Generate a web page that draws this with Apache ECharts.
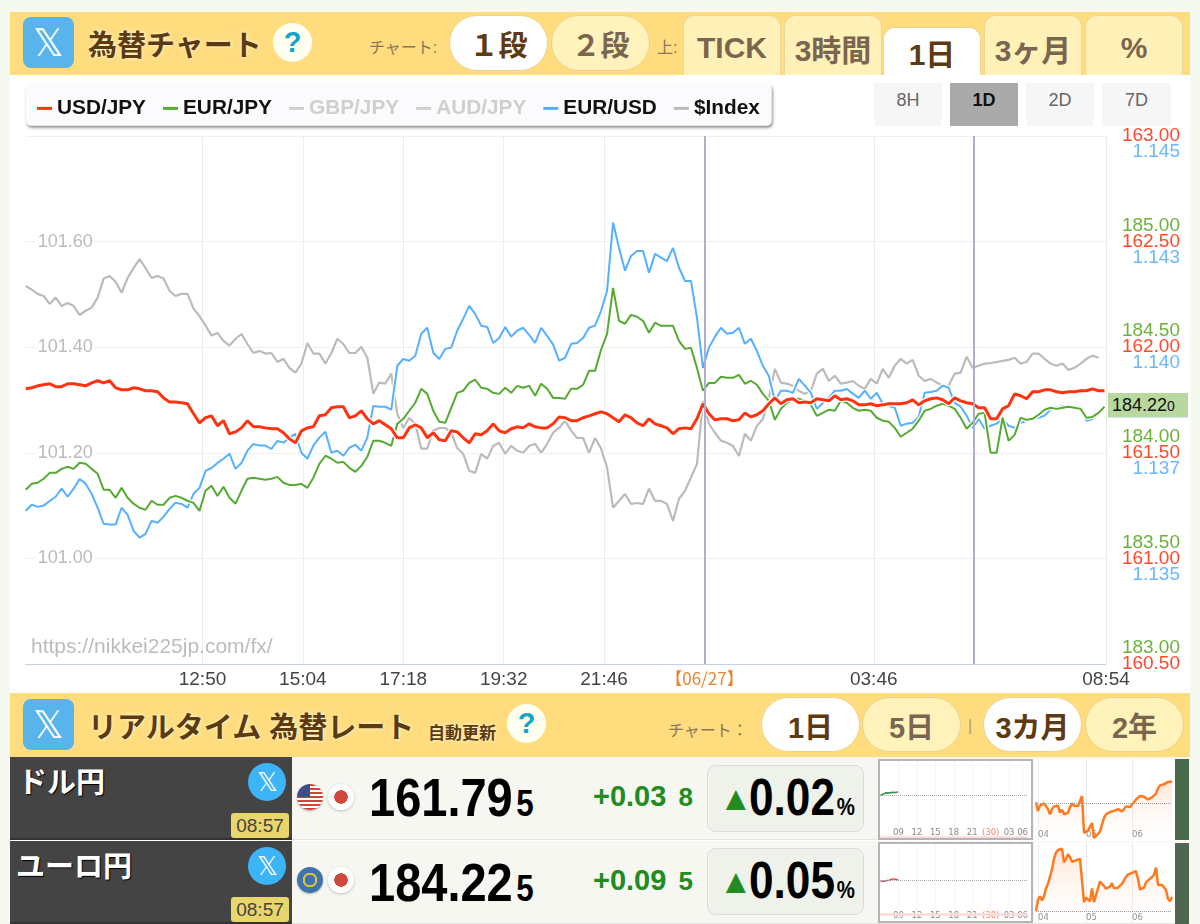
<!DOCTYPE html>
<html lang="ja"><head><meta charset="utf-8">
<script src="https://cdn.jsdelivr.net/npm/echarts@6/dist/echarts.min.js"></script>
<style>
*{box-sizing:border-box}
html,body{margin:0;padding:0;width:1200px;height:924px;overflow:hidden;background:#f5f9f0;font-family:"Liberation Sans","Noto Sans CJK JP",sans-serif}
.a{position:absolute;white-space:nowrap}
.c{display:flex;align-items:center;justify-content:center}
.wrap{left:10px;top:12px;width:1180px;height:912px;background:#fff}
.bar{left:10px;width:1180px;height:64px;background:#ffdc7d}
.xi{width:51px;height:51px;left:23px;border-radius:8px;background:#58b4ea;color:#fff;font-size:38px}
.ttl{color:#5e3a13;font-weight:700;font-size:29px;text-shadow:0 0 4px #fff6c8,0 0 2px #fff6c8}
.q{width:39px;height:39px;border-radius:50%;background:#fffff0;color:#12a5c9;font-weight:700;font-size:29px}
.lab{color:#8a7658;font-size:16px}
.pill{width:99px;border-radius:28px;font-weight:700;font-size:29px;border:1px solid #ecd28c}
.on{background:#fff;color:#5e3a13}
.off{background:#fff3bb;color:#7a6650}
.tab{width:98px;height:60px;top:15px;border-radius:12px 12px 0 0;background:#fff1b8;color:#7a6650;font-weight:700;font-size:30px;border:1px solid #eed596;border-bottom:0;padding-top:4px}
.rb{width:68px;height:43px;top:83px;background:#f6f6f6;color:#666;font-size:18px;padding-top:5px;text-align:center;line-height:24px}
.row{left:10px;width:1180px;height:83px;background:#f6f7f1;border-bottom:1px solid #e4e4e0}
.nm{left:10px;width:282px;height:83px;background:#444;border-bottom:2px solid #333}
.nmt{color:#fff;font-weight:700;font-size:29px;text-shadow:1px 1px 1px #000}
.xc{width:38px;height:38px;left:248px;border-radius:50%;background:#3db4f7;color:#fff;font-size:26px}
.tm{left:231px;width:58px;height:25px;background:#e8d56b;color:#444;font-size:19px;border-radius:3px}
.fl{width:26px;height:26px;left:297px;border-radius:50%;box-shadow:0 1px 2px #aaa}
.jp{width:26px;height:26px;left:328px;border-radius:50%;background:radial-gradient(circle,#cf4a3e 0 6.5px,#fff 7px);box-shadow:0 1px 3px #bbb}
.pr{left:369px;font-weight:700;font-size:54px;color:#000;transform:scaleX(.87);transform-origin:left center}
.pr small{font-size:36px;margin-left:4px}
.ch{left:593px;font-weight:700;font-size:29px;color:#228b22}
.ch small{font-size:26px;margin-left:12px}
.box{left:707px;width:157px;height:67px;background:#eff1eb;border:1px solid #dcdcd8;border-radius:9px}
.tri{left:719px;color:#228b22;font-size:34px;font-weight:700}
.pc{left:749px;font-weight:700;font-size:52px;color:#000;transform:scaleX(.85);transform-origin:left center}
.pc small{font-size:24px;margin-left:2px}
.mini{position:absolute}
.side{left:1175px;width:14px;height:81px}
#tag{left:1108px;top:393px;width:80px;height:25px;background:#b8d8a0;border-bottom:1px solid #cfe3f5;color:#111;font-size:18px;z-index:5;padding-left:4px;line-height:25px}
#tag small{font-size:14px}
</style></head><body>
<div class="a wrap"></div>
<div class="a bar" style="top:12px;height:63px"></div>
<div class="a xi c" style="top:17px">𝕏</div>
<div class="a ttl" style="left:88px;top:22px">為替チャート</div>
<div class="a q c" style="left:273px;top:23px">?</div>
<div class="a lab" style="left:369px;top:34px">チャート:</div>
<div class="a pill on c" style="left:449px;top:15px;height:56px">１段</div>
<div class="a pill off c" style="left:551px;top:15px;height:56px">２段</div>
<div class="a lab" style="left:657px;top:34px">上:</div>
<div class="a tab c" style="left:683px">TICK</div>
<div class="a tab c" style="left:784px">3時間</div>
<div class="a tab c" style="left:883px;top:27px;height:48px;background:#fff;color:#5e3a13;padding-top:0">1日</div>
<div class="a tab c" style="left:984px">3ヶ月</div>
<div class="a tab c" style="left:1085px">%</div>
<div class="a rb" style="left:874px">8H</div>
<div class="a rb" style="left:950px;background:#aaa;color:#111;font-weight:700">1D</div>
<div class="a rb" style="left:1026px">2D</div>
<div class="a rb" style="left:1102px;width:69px">7D</div>

<div id="main" style="position:absolute;left:0;top:0;width:1200px;height:692px"></div>
<div id="tag" class="a">184.22<small>0</small></div>

<div class="a bar" style="top:693px"></div>
<div class="a xi c" style="top:699px">𝕏</div>
<div class="a ttl" style="left:88px;top:704px">リアルタイム 為替レート</div>
<div class="a ttl" style="left:428px;top:719px;font-size:17px">自動更新</div>
<div class="a q c" style="left:507px;top:704px">?</div>
<div class="a lab" style="left:668px;top:717px">チャート：</div>
<div class="a pill on c" style="left:761px;top:697px;height:55px">1日</div>
<div class="a pill off c" style="left:862px;top:697px;height:55px">5日</div>
<div class="a lab" style="left:968px;top:717px;color:#b09a70">|</div>
<div class="a pill on c" style="left:983px;top:697px;height:55px">3カ月</div>
<div class="a pill off c" style="left:1085px;top:697px;height:55px">2年</div>

<div class="a row" style="top:757px"></div>
<div class="a nm" style="top:757px"></div>
<div class="a nmt" style="left:18px;top:759px">ドル円</div>
<div class="a xc c" style="top:763px">𝕏</div>
<div class="a tm c" style="top:813px">08:57</div>
<div class="a fl" style="top:784px;background:linear-gradient(#3c4f86 0 0) left top/13px 13px no-repeat,repeating-linear-gradient(#d2443a 0 2px,#fff 2px 4px)"></div>
<div class="a jp" style="top:784px"></div>
<div class="a pr" style="top:766px">161.79<small>5</small></div>
<div class="a ch" style="top:780px">+0.03<small>8</small></div>
<div class="a box" style="top:765px"></div>
<div class="a tri" style="top:779px">▲</div>
<div class="a pc" style="top:767px">0.02<small>%</small></div>
<div class="a side" style="top:759px;background:#4a6b4a"></div>

<div class="a row" style="top:841px"></div>
<div class="a nm" style="top:841px"></div>
<div class="a nmt" style="left:16px;top:843px">ユーロ円</div>
<div class="a xc c" style="top:847px">𝕏</div>
<div class="a tm c" style="top:897px">08:57</div>
<div class="a fl" style="top:867px;background:radial-gradient(circle,#3f72ae 0 5px,#d8c23a 5.5px 7px,#3f72ae 7.5px)"></div>
<div class="a jp" style="top:867px"></div>
<div class="a pr" style="top:851px">184.22<small>5</small></div>
<div class="a ch" style="top:864px">+0.09<small>5</small></div>
<div class="a box" style="top:848px"></div>
<div class="a tri" style="top:862px">▲</div>
<div class="a pc" style="top:850px">0.05<small>%</small></div>
<div class="a side" style="top:843px;background:#4f6650"></div>

<div id="d1" class="mini" style="left:878px;top:759px;width:155px;height:81px;background:#fff;border:2px solid #b5b5b5"></div>
<div id="d2" class="mini" style="left:878px;top:842px;width:155px;height:81px;background:#fff;border:2px solid #b5b5b5"></div>
<div id="m1" class="mini" style="left:1034px;top:759px;width:141px;height:81px;background:#fff"></div>
<div id="m2" class="mini" style="left:1034px;top:842px;width:141px;height:81px;background:#fff"></div>

<script>
// ---- main chart values ----
const STEP_MIN = 8;
const usdJpy = [
161.803,161.808,161.817,161.822,161.827,161.813,161.813,161.827,161.827,161.822,161.817,161.831,161.841,161.831,161.841,161.808,161.798,161.798,161.808,161.803,161.794,161.794,161.789,161.760,161.741,161.741,161.737,161.732,161.685,161.642,161.666,161.675,161.628,161.652,161.590,161.599,161.618,161.652,161.623,161.623,161.618,161.614,161.614,161.595,161.566,161.547,161.604,161.618,161.623,161.675,
161.680,161.713,161.718,161.718,161.666,161.675,161.699,161.661,161.637,161.652,161.633,161.614,161.571,161.571,161.618,161.633,161.618,161.571,161.595,161.562,161.557,161.604,161.599,161.571,161.547,161.590,161.585,161.604,161.637,161.604,161.595,161.614,161.623,161.618,161.637,161.623,161.618,161.618,161.637,161.670,161.666,161.652,161.652,161.666,161.675,161.685,161.694,161.685,
161.666,161.647,161.680,161.666,161.642,161.628,161.661,161.637,161.628,161.618,161.590,161.614,161.618,161.614,161.661,161.732,161.685,161.656,161.661,161.661,161.652,161.656,161.689,161.670,161.680,161.699,161.732,161.760,161.732,161.751,161.756,161.737,161.741,161.737,161.756,161.751,161.746,161.770,161.751,161.756,161.746,161.727,161.727,161.732,161.723,161.727,161.732,161.732,
161.732,161.737,161.751,161.727,161.746,161.756,161.760,161.751,161.732,161.760,161.746,161.737,161.732,161.713,161.713,161.661,161.661,161.708,161.723,161.779,161.770,161.756,161.789,161.789,161.798,161.798,161.789,161.784,161.789,161.789,161.794,161.794,161.803,161.794,161.794];
const eurJpy = [
183.825,183.853,183.858,183.877,183.905,183.905,183.924,183.934,183.924,183.953,183.948,183.924,183.901,183.825,183.825,183.787,183.834,183.787,183.759,183.740,183.730,183.773,183.754,183.754,183.787,183.796,183.787,183.773,183.763,183.725,183.820,183.844,183.796,183.839,183.787,183.759,183.820,183.877,183.882,183.877,183.872,183.877,183.886,183.858,183.848,183.848,183.853,183.834,183.882,183.948,
183.986,183.972,183.953,183.957,183.929,183.910,183.938,183.981,184.057,184.057,184.047,184.033,184.137,184.161,184.199,184.237,184.303,184.279,184.199,184.147,184.142,184.213,184.284,184.294,184.331,184.346,184.308,184.303,184.284,184.279,184.308,184.284,184.317,184.308,184.317,184.270,184.327,184.303,184.260,184.260,184.256,184.303,184.303,184.322,184.388,184.388,184.488,184.563,
184.781,184.625,184.611,184.653,184.644,184.625,184.568,184.616,184.601,184.601,184.601,184.530,184.492,184.497,184.402,184.294,184.331,184.331,184.360,184.355,184.355,184.369,184.327,184.341,184.322,184.279,184.246,184.156,184.208,184.237,184.251,184.256,184.246,184.227,184.175,184.189,184.204,184.199,184.246,184.237,184.213,184.199,184.204,184.199,184.166,184.152,184.147,184.118,
184.076,184.095,184.114,184.152,184.199,184.208,184.223,184.232,184.223,184.208,184.166,184.114,184.142,184.185,184.189,184.000,184.000,184.166,184.057,184.085,184.166,184.156,184.161,184.180,184.204,184.213,184.208,184.213,184.218,184.213,184.208,184.166,184.170,184.189,184.218];
const eurUsd = [
1.13613,1.13627,1.13622,1.13625,1.13636,1.13646,1.13665,1.13646,1.13665,1.13688,1.13677,1.13653,1.13620,1.13582,1.13580,1.13580,1.13620,1.13603,1.13565,1.13549,1.13558,1.13589,1.13584,1.13599,1.13617,1.13632,1.13629,1.13620,1.13653,1.13667,1.13707,1.13714,1.13726,1.13736,1.13748,1.13712,1.13726,1.13755,1.13771,1.13767,1.13767,1.13759,1.13778,1.13774,1.13786,1.13795,1.13750,1.13736,1.13767,1.13786,
1.13800,1.13750,1.13755,1.13743,1.13762,1.13769,1.13755,1.13786,1.13861,1.13859,1.13859,1.13852,1.13956,1.13972,1.13968,1.13980,1.14032,1.14046,1.13987,1.13972,1.13996,1.13999,1.14039,1.14067,1.14098,1.14079,1.14051,1.14048,1.14010,1.14022,1.14048,1.14025,1.14039,1.14046,1.14029,1.14010,1.14046,1.14027,1.14006,1.13968,1.13975,1.14008,1.14010,1.14022,1.14046,1.14051,1.14086,1.14133,
1.14295,1.14235,1.14181,1.14216,1.14228,1.14228,1.14176,1.14221,1.14212,1.14204,1.14235,1.14188,1.14157,1.14157,1.14070,1.13951,1.13999,1.14025,1.14046,1.14032,1.14034,1.14046,1.14008,1.14020,1.13991,1.13956,1.13932,1.13873,1.13897,1.13897,1.13892,1.13925,1.13909,1.13892,1.13854,1.13868,1.13880,1.13897,1.13897,1.13901,1.13890,1.13880,1.13897,1.13878,1.13892,1.13866,1.13861,1.13857,
1.13814,1.13819,1.13821,1.13835,1.13892,1.13894,1.13897,1.13909,1.13904,1.13868,1.13859,1.13838,1.13809,1.13830,1.13807,1.13814,1.13819,1.13830,1.13814,1.13809,1.13821,1.13826,1.13830,1.13833,1.13838,1.13852,1.13857,1.13861,1.13859,1.13857,1.13857,1.13826,1.13830,1.13845,1.13857];
const dollarIndex = [
101.516,101.509,101.501,101.497,101.482,101.494,101.478,101.484,101.478,101.461,101.469,101.475,101.494,101.530,101.535,101.524,101.503,101.531,101.550,101.567,101.550,101.531,101.535,101.530,101.507,101.497,101.501,101.501,101.473,101.459,101.441,101.422,101.427,101.412,101.403,101.416,101.425,101.406,101.389,101.393,101.388,101.389,101.372,101.378,101.361,101.352,101.369,101.408,101.388,101.388,
101.369,101.389,101.416,101.406,101.389,101.389,101.401,101.380,101.312,101.333,101.331,101.350,101.274,101.247,101.266,101.255,101.208,101.208,101.242,101.247,101.247,101.238,101.209,101.198,101.166,101.162,101.198,101.189,101.213,101.219,101.198,101.213,101.204,101.200,101.213,101.217,101.200,101.217,101.238,101.247,101.261,101.242,101.228,101.228,101.200,101.228,101.208,101.172,
101.096,101.109,101.122,101.103,101.105,101.103,101.132,101.109,101.109,101.103,101.071,101.113,101.128,101.153,101.179,101.298,101.255,101.238,101.223,101.219,101.213,101.194,101.236,101.223,101.251,101.264,101.304,101.359,101.333,101.331,101.327,101.317,101.312,101.317,101.350,101.359,101.336,101.346,101.331,101.333,101.336,101.327,101.321,101.340,101.331,101.359,101.342,101.365,
101.378,101.369,101.376,101.346,101.336,101.340,101.333,101.327,101.327,101.350,101.352,101.382,101.361,101.365,101.369,101.370,101.372,101.374,101.376,101.380,101.369,101.372,101.388,101.388,101.378,101.369,101.365,101.369,101.357,101.361,101.369,101.378,101.384,101.380,null];

const xTickMinutes = [236,370,504,638,772,906,1132,1442];
const xTickLabels  = ['12:50','15:04','17:18','19:32','21:46','【06/27】','03:46','08:54'];
const sessionLines = [906,1266];
const usdTicks = ['160.50','161.00','161.50','162.00','162.50','163.00'];
const eurTicks = ['183.00','183.50','184.00','184.50','185.00',''];
const fxTicks  = ['','1.135','1.137','1.140','1.143','1.145'];
const idxTicks = ['','101.00','101.20','101.40','101.60',''];
const legendNames = ['USD/JPY','EUR/JPY','GBP/JPY','AUD/JPY','EUR/USD','$Index'];

// ---- small chart values ----
const usdDayHours = [6.1,6.5,7,7.5,8,8.5,8.95];
const usdDayVals  = [161.757,161.770,161.785,161.782,161.790,161.788,161.795];
const eurDayVals  = [184.110,184.115,184.120,184.125,184.140,184.135,184.130];
const dayTickHours = [9,12,15,18,21,24,27,29.2];
const dayTickLabels = ['09','12','15','18','21','(30)','03','06'];
const usd3m = [160.0,159.25,159.7,159.85,159.9,159.94,159.4,158.95,159.4,159.64,159.7,159.7,159.1,159.34,158.95,159.0,159.1,159.55,159.9,159.7,159.64,159.67,159.7,160.54,157.35,157.45,157.54,157.6,158.2,156.9,157.08,157.26,157.45,158.05,158.65,158.95,159.1,159.15,159.2,159.25,159.34,159.4,159.34,159.2,159.4,159.64,159.64,159.58,159.7,160.0,160.24,160.36,160.54,160.54,160.48,160.48,160.24,160.39,160.42,160.45,160.75,161.2,161.46,161.5,161.55,161.65,161.76,161.85,161.8];
const eur3m = [182.96,183.92,184.22,183.86,184.22,184.91,185.3,185.36,186.56,187.46,188.0,188.24,188.27,188.36,187.16,187.46,187.88,187.61,187.22,187.22,187.34,187.4,187.46,187.61,183.71,184.1,184.01,183.8,184.91,183.71,184.31,184.91,185.51,185.36,185.12,184.88,184.76,185.06,185.36,184.91,184.88,184.97,185.06,185.3,185.6,185.9,186.11,186.17,186.26,186.32,186.41,185.72,184.82,184.91,184.97,185.42,185.6,185.72,185.9,186.11,186.71,185.21,185.12,185.21,185.0,184.76,184.01,183.8,184.16];
const monthLabels = {1:'04',25:'05',48:'06'};

const FONT = '"Liberation Sans","Noto Sans CJK JP",sans-serif';
const pairs = arr => arr.map((v,i)=>[i*STEP_MIN,v]);
function lineSeries(name,data,color,width,yIdx,extra){
  const halo = {name:name+' halo',type:'line',data:pairs(data),yAxisIndex:yIdx,showSymbol:false,silent:true,
    connectNulls:false,lineStyle:{color:'#fff',width:width+2.5},itemStyle:{color:'#fff'},z:2,zlevel:0};
  const line = Object.assign({name,type:'line',data:pairs(data),yAxisIndex:yIdx,showSymbol:false,symbol:'none',
    color,lineStyle:{color,width},itemStyle:{color},z:2},extra||{});
  return [halo,line];
}
const grayPart = lineSeries('$Index',dollarIndex,'#bbbbbb',2.2,0,{
  markLine:{silent:true,symbol:'none',label:{show:false},lineStyle:{color:'#aeaed2',width:2,type:'solid'},
    data:sessionLines.map(v=>({xAxis:v}))}});
const bluePart = lineSeries('EUR/USD',eurUsd,'#55b0ff',2,3);
const greenPart = lineSeries('EUR/JPY',eurJpy,'#55aa33',2,2);
const redPart = lineSeries('USD/JPY',usdJpy,'#ff3311',3,1);
const rightAxis = (min,max,interval,ticks,color,vAlign,lh)=>({type:'value',position:'right',min,max,interval,
  axisLine:{show:false},axisTick:{show:false},splitLine:{show:false},
  axisLabel:{show:true,margin:74,align:'right',verticalAlign:vAlign,lineHeight:lh,color,fontSize:19,fontFamily:FONT,
    formatter:(v,i)=>ticks[i]}});
const main = echarts.init(document.getElementById('main'),null,{renderer:'canvas'});
main.setOption({
  animation:false,backgroundColor:'transparent',
  title:{text:'https://nikkei225jp.com/fx/',left:31,top:637,padding:0,textStyle:{color:'#bcbcbc',fontSize:21,fontWeight:'normal',fontFamily:FONT}},
  legend:{data:legendNames,left:26,top:84,padding:[14,12,7,11],itemGap:17,itemWidth:15,itemHeight:3,icon:'rect',
    selected:{'GBP/JPY':false,'AUD/JPY':false},inactiveColor:'#cfcfcf',selectedMode:false,
    backgroundColor:'#fbfbfe',borderRadius:5,shadowColor:'rgba(0,0,0,.45)',shadowBlur:3,shadowOffsetX:1,shadowOffsetY:2,
    textStyle:{color:'#111',fontWeight:'bold',fontSize:20.8,fontFamily:FONT}},
  grid:{left:25.7,right:94,top:136,height:528,containLabel:false},
  xAxis:{type:'value',min:0,max:1442,
    axisLine:{show:true,lineStyle:{color:'#c5d0e2',width:1}},axisTick:{show:false,customValues:xTickMinutes},
    splitLine:{show:true,lineStyle:{color:'#ececec',width:1}},
    axisLabel:{customValues:xTickMinutes,margin:6,color:'#444',fontSize:19,fontFamily:FONT,hideOverlap:false,
      formatter:v=>{const s=xTickLabels[xTickMinutes.indexOf(v)];return s&&s[0]==='【'?'{o|'+s+'}':s;},
      rich:{o:{color:'#e9852f',fontSize:17,fontFamily:'"Noto Sans CJK JP",sans-serif'}}}},
  yAxis:[
    {type:'value',position:'left',min:100.8,max:101.8,interval:.2,axisLine:{show:false},axisTick:{show:false},
      splitLine:{show:true,lineStyle:{color:'#efefef',width:1}},
      axisLabel:{inside:true,margin:10,color:'#bbbbbb',fontSize:18,fontFamily:FONT,
        formatter:(v,i)=>idxTicks[i]?'{b|'+idxTicks[i]+'}':'',
        rich:{b:{backgroundColor:'#fff',padding:[1,2],color:'#bbbbbb',fontSize:18,fontFamily:FONT}}}},
    rightAxis(160.5,163,.5,usdTicks,'#ff4a2a','middle',19),
    rightAxis(183,185.5,.5,eurTicks,'#6cb23a','bottom',32),
    rightAxis(1.1325,1.145,.0025,fxTicks,'#6ab8ff','top',32)
  ],
  series:[
    {name:'GBP/JPY',type:'line',data:[],color:'#ccc'},{name:'AUD/JPY',type:'line',data:[],color:'#ccc'},
    ...grayPart,...bluePart,...greenPart,...redPart
  ]
});

function dayChart(id,vals,color,lo,hi,prev,band){
  echarts.init(document.getElementById(id)).setOption({animation:false,
    grid:{left:0,right:0,top:0,bottom:0},
    xAxis:{type:'value',min:6,max:30,axisLine:{show:false},axisTick:{show:false,customValues:dayTickHours},
      splitLine:{show:true,lineStyle:{color:'#f5f5f5'}},
      axisLabel:{customValues:dayTickHours,inside:true,margin:1,color:'#888',fontSize:8.5,fontFamily:'"DejaVu Sans",sans-serif',verticalAlign:'bottom',
        formatter:v=>{const s=dayTickLabels[dayTickHours.indexOf(v)];return s==='(30)'?'{o|'+s+'}':s;},
        rich:{o:{color:'#ef8a5e',fontSize:8.5,fontFamily:'"DejaVu Sans",sans-serif'}}}},
    yAxis:{type:'value',min:lo,max:hi,show:false},
    series:[{type:'line',data:usdDayHours.map((h,i)=>[h,vals[i]]),showSymbol:false,lineStyle:{color,width:1.5},
      markLine:{silent:true,symbol:'none',label:{show:false},data:[
        {yAxis:prev,lineStyle:{color:'#aaa',width:1,type:'dotted'}},
        {yAxis:band,lineStyle:{color:'#fddada',width:2.5,type:'solid'}}]}}]
  });
}
dayChart('d1',usdDayVals,'#2e8b3a',161.28,162.14,161.757,161.295);
dayChart('d2',eurDayVals,'#d8505a',183.67,184.53,184.13,183.74);

function monthChart(id,vals,lo,hi,prev){
  echarts.init(document.getElementById(id)).setOption({animation:false,
    grid:{left:2,right:3,top:0,bottom:0},
    xAxis:{type:'category',boundaryGap:false,data:vals.map((_,i)=>i),axisLine:{show:false},axisTick:{show:false},
      splitLine:{show:true,interval:i=>monthLabels[i]!==undefined,lineStyle:{color:'#ececec',width:1}},
      axisLabel:{interval:i=>monthLabels[i]!==undefined,inside:true,margin:1,color:'#888',fontSize:8.5,fontFamily:'"DejaVu Sans",sans-serif',verticalAlign:'bottom',align:'left',
        formatter:(v,i)=>monthLabels[v]||''}},
    yAxis:{type:'value',min:lo,max:hi,show:false},
    series:[{type:'line',data:vals,showSymbol:false,lineStyle:{color:'#ff7a1f',width:2.5},
      areaStyle:{color:new echarts.graphic.LinearGradient(0,0,0,1,[{offset:0,color:'rgba(255,140,70,.32)'},{offset:1,color:'rgba(255,255,255,.1)'}])},
      markLine:{silent:true,symbol:'none',label:{show:false},lineStyle:{color:'#999',width:1,type:'dotted'},data:[{yAxis:prev}]}}]
  });
}
monthChart('m1',usd3m,156.725,163.745,159.93);
monthChart('m2',eur3m,181.91,188.93,182.96);
</script>
</body></html>
